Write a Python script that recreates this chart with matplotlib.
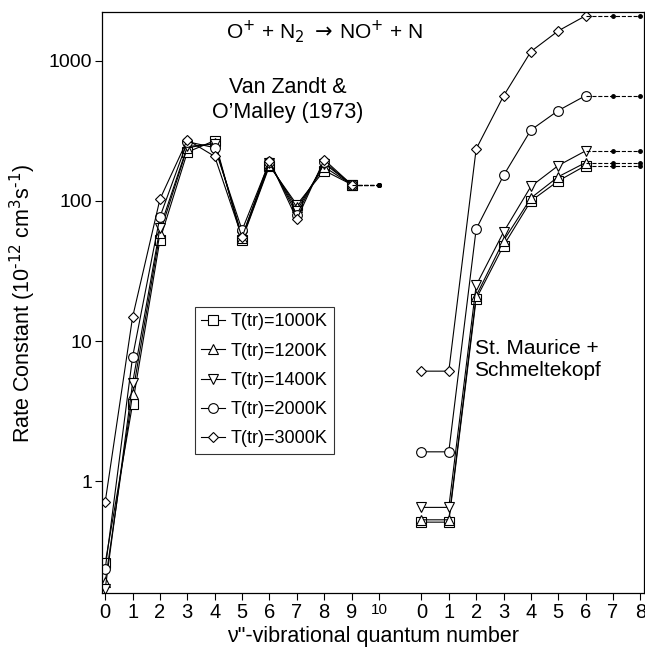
import matplotlib.pyplot as plt

plt.rcParams['font.family'] = ['Liberation Sans', 'DejaVu Sans']

# === Data ===
temps = ["T(tr)=1000K", "T(tr)=1200K", "T(tr)=1400K", "T(tr)=2000K", "T(tr)=3000K"]
markers = ["s", "^", "v", "o", "D"]

# Van Zandt & O'Malley (1973), v = 0..9
vz_v = [0, 1, 2, 3, 4, 5, 6, 7, 8, 9]
vz_k = [
    [0.26, 3.55, 53, 223, 270, 53, 178, 94, 165, 131],
    [0.19, 4.2, 59, 240, 258, 54, 182, 90, 175, 131],
    [0.17, 5.0, 64, 245, 255, 56, 186, 85, 185, 131],
    [0.235, 7.7, 77, 265, 240, 62, 190, 80, 190, 131],
    [0.71, 14.8, 103, 273, 208, 55, 194, 74, 197, 131],
]
vz_ext_v = [9, 10]

# St. Maurice + Schmeltekopf, v = 0..6, then extrapolated to 8
sm_v = [0, 1, 2, 3, 4, 5, 6]
sm_k = [
    [0.51, 0.51, 20, 48, 100, 139, 179],
    [0.53, 0.53, 21, 52, 105, 149, 188],
    [0.65, 0.65, 25, 60, 127, 179, 228],
    [1.62, 1.62, 63, 152, 321, 442, 565],
    [6.1, 6.1, 235, 562, 1166, 1638, 2100],
]
sm_ext_v = [6, 7, 8]

left_ticks = [0, 1, 2, 3, 4, 5, 6, 7, 8, 9, 10]
right_ticks = [0, 1, 2, 3, 4, 5, 6, 7, 8]
offset = 11.55  # where the second panel's v=0 sits on the shared axis

# === Plot ===
fig = plt.figure(figsize=(6.45, 6.5), dpi=100)
ax = fig.add_axes([0.158, 0.087, 0.840, 0.894])
ax.set_yscale('log')

style = dict(color='black', lw=0.8, mfc='white', mec='black', mew=0.8)
sizes = {'s': 6.5, '^': 7, 'v': 7, 'o': 7, 'D': 5.5}
for lab, m, k1, k2 in zip(temps, markers, vz_k, sm_k):
    ms = sizes[m]
    ax.plot(vz_v, k1, marker=m, ms=ms, label=lab, **style)
    ax.plot([v + offset for v in sm_v], k2, marker=m, ms=ms, **style)
    # dashed extensions with small dots
    ax.plot(vz_ext_v, [k1[-1]] * len(vz_ext_v), ls='--', color='black', lw=0.8,
            marker='o', ms=2.5, markevery=list(range(1, len(vz_ext_v))))
    ax.plot([v + offset for v in sm_ext_v], [k2[-1]] * len(sm_ext_v), ls='--',
            color='black', lw=0.8, marker='o', ms=2.5,
            markevery=list(range(1, len(sm_ext_v))))

ax.set_xlim(-0.12, offset + 8.12)
ax.set_ylim(0.158, 2220)

xt = left_ticks + [v + offset for v in right_ticks]
xl = [str(v) for v in left_ticks] + [str(v) for v in right_ticks]
ax.set_xticks(xt)
ax.set_xticklabels(xl, fontsize=14.5)
for t in ax.get_xticklabels():
    if t.get_text() == '10':
        t.set_fontsize(11)
        t.set_verticalalignment('top')
ax.set_yticks([1, 10, 100, 1000])
ax.set_yticklabels(['1', '10', '100', '1000'], fontsize=14)
ax.minorticks_off()
ax.tick_params(direction='out', length=5, width=0.8, top=False, right=False, pad=2)
for s in ax.spines.values():
    s.set_linewidth(0.9)

ax.set_xlabel('\u03bd"-vibrational quantum number', fontsize=15.5, labelpad=3)
ax.set_ylabel('Rate Constant (10$^{\\text{-}12}$ cm$^{3}$s$^{\\text{-}1}$)',
              fontsize=15.5, labelpad=8)

ax.text(8.0, 1610, 'O$^{+}$ + N$_2$ $\\rightarrow\\,$NO$^{+}$ + N', fontsize=15,
        ha='center', va='center')
ax.text(6.67, 527, 'Van Zandt &\nO\u2019Malley (1973)', fontsize=15.5,
        ha='center', va='center', linespacing=1.25)
ax.text(13.49, 7.4, 'St. Maurice +\nSchmeltekopf', fontsize=15,
        ha='left', va='center', linespacing=1.25)

leg = ax.legend(loc='upper left', bbox_to_anchor=(0.172, 0.493), fontsize=13,
                frameon=True, fancybox=False, edgecolor='black',
                borderpad=0.35, labelspacing=0.68, handlelength=1.3,
                handletextpad=0.3, borderaxespad=0)
leg.get_frame().set_linewidth(0.8)

fig.savefig('out.png', dpi=100)
